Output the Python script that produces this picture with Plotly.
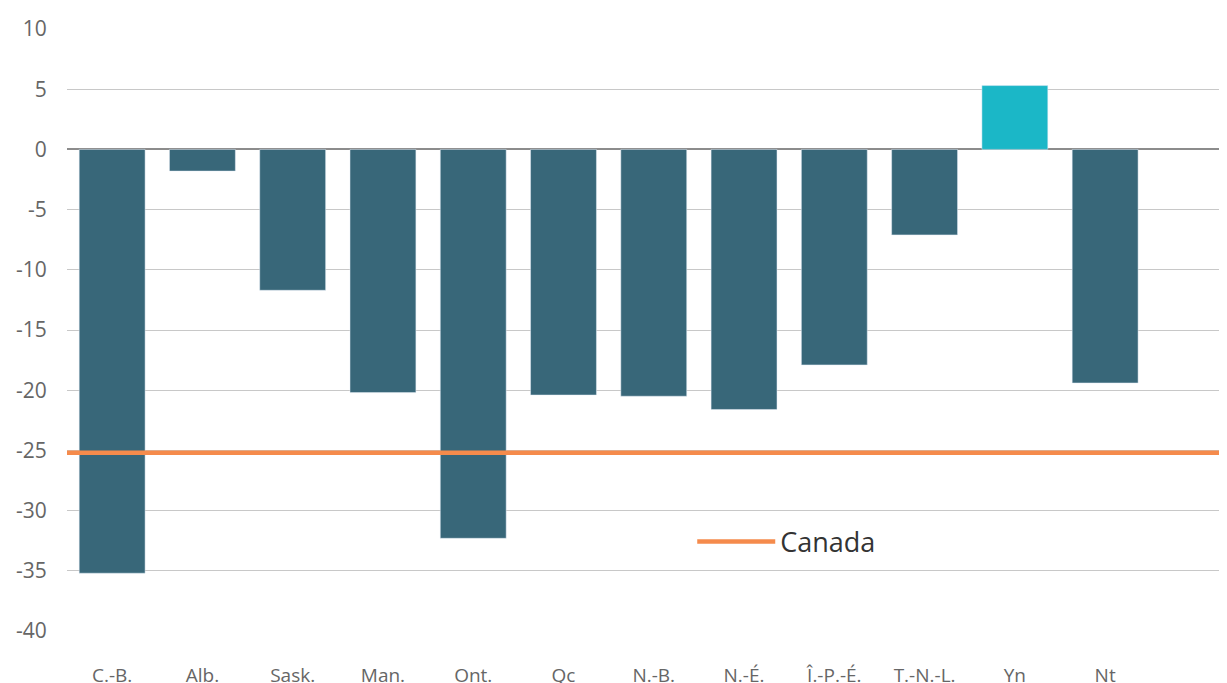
import plotly.graph_objects as go

categories = ["C.-B.", "Alb.", "Sask.", "Man.", "Ont.", "Qc", "N.-B.", "N.-É.", "Î.-P.-É.", "T.-N.-L.", "Yn", "Nt"]
values = [-35.2, -1.8, -11.7, -20.2, -32.3, -20.4, -20.5, -21.6, -17.9, -7.1, 5.3, -19.4]
canada_value = -25.2
y_ticks = [10, 5, 0, -5, -10, -15, -20, -25, -30, -35, -40]
y_tick_labels = ["10", "5", "0", "-5", "-10", "-15", "-20", "-25", "-30", "-35", "-40"]

bar_colors = ["#1bb7c7" if v > 0 else "#386779" for v in values]
xpos = list(range(len(categories)))

fig = go.Figure()
fig.add_trace(go.Bar(
    x=xpos, y=values, marker_color=bar_colors, width=0.73,
    showlegend=False, hoverinfo="y",
))
fig.add_trace(go.Scatter(
    x=[-0.556, 12.35], y=[canada_value, canada_value], mode="lines",
    line=dict(color="#f58b4c", width=4.5), name="Canada", cliponaxis=False,
))

fig.update_layout(
    width=1227, height=683,
    margin=dict(l=59, r=8, t=21, b=60),
    paper_bgcolor="white", plot_bgcolor="white",
    font=dict(family="Open Sans, sans-serif", color="#666666"),
    showlegend=True,
    legend=dict(x=0.539, y=0.148, xanchor="left", yanchor="middle",
                font=dict(size=27, color="#333333"), bgcolor="rgba(0,0,0,0)",
                itemwidth=78),
    bargap=0.27,
)
fig.update_xaxes(
    range=[-0.5, 12.35], tickmode="array", tickvals=xpos, ticktext=categories,
    showgrid=False, zeroline=False, showline=False, automargin=False,
    ticks="outside", ticklen=27, tickcolor="rgba(0,0,0,0)",
    tickfont=dict(size=19, color="#666666"),
)
fig.update_yaxes(
    range=[-40, 10], tickmode="array", tickvals=y_ticks, ticktext=y_tick_labels,
    showgrid=True, gridcolor="#c8c8c8", gridwidth=1,
    zeroline=True, zerolinecolor="#8c8c8c", zerolinewidth=2,
    showline=False, automargin=False,
    ticks="outside", ticklen=15, tickcolor="rgba(0,0,0,0)",
    tickfont=dict(size=21, color="#666666"),
)

fig.write_html("out.html")
